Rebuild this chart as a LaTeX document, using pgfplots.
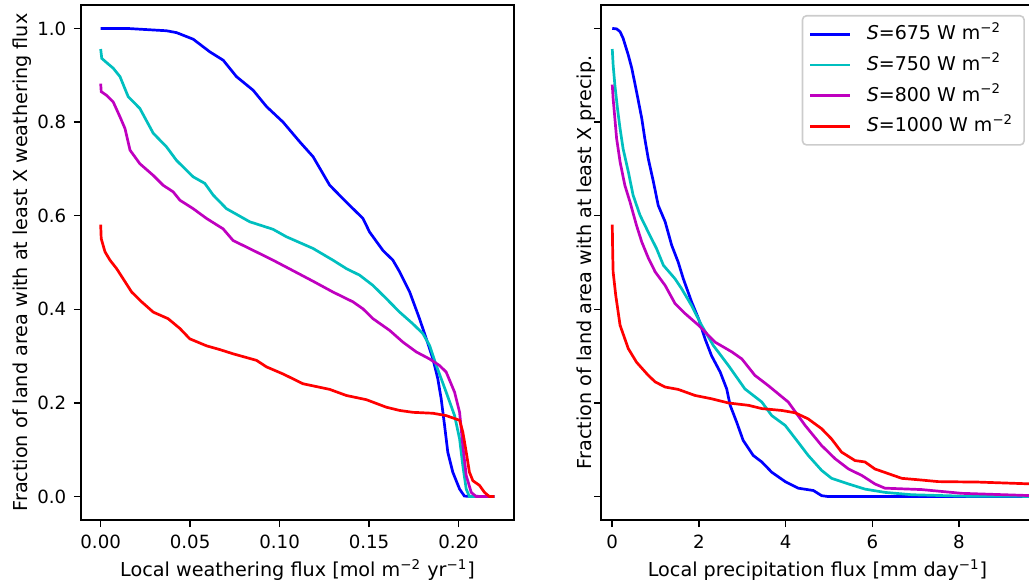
\documentclass[border=0pt]{standalone}
\usepackage{fontspec}
\setmainfont{DejaVu Sans}
\usepackage{pgfplots}
\usepackage{pgfplotstable}
\pgfplotsset{compat=1.18}
\definecolor{mb}{rgb}{0,0,1}
\definecolor{mc}{rgb}{0,0.75,0.75}
\definecolor{mm}{rgb}{0.75,0,0.75}
\definecolor{mr}{rgb}{1,0,0}
\definecolor{legedge}{rgb}{0.8,0.8,0.8}

\pgfplotstableread{
x y
0 1.0
0.0145 1.0
0.0368 0.995
0.0424 0.991
0.0517 0.977
0.061 0.950
0.0685 0.932
0.0759 0.897
0.0852 0.868
0.0927 0.833
0.1019 0.800
0.1112 0.758
0.1187 0.726
0.128 0.665
0.1373 0.629
0.1466 0.594
0.1503 0.565
0.1577 0.526
0.1633 0.505
0.1671 0.480
0.1727 0.437
0.1782 0.380
0.182 0.337
0.1857 0.294
0.1884 0.252
0.1903 0.209
0.1922 0.152
0.194 0.095
0.1968 0.052
0.2006 0.016
0.2033 0.001
0.22 0.0
}\LBlue
\pgfplotstableread{
x y
0 0.956
0.0006 0.936
0.0033 0.927
0.007 0.915
0.0108 0.897
0.0154 0.854
0.0219 0.829
0.0294 0.776
0.0368 0.747
0.0424 0.718
0.0517 0.683
0.0582 0.669
0.0629 0.644
0.0703 0.615
0.0833 0.587
0.0963 0.571
0.1038 0.555
0.1187 0.530
0.1298 0.505
0.1373 0.487
0.1447 0.473
0.1522 0.451
0.1596 0.423
0.1671 0.394
0.1745 0.369
0.1801 0.348
0.1838 0.323
0.1876 0.280
0.1931 0.223
0.1978 0.173
0.2006 0.123
0.2024 0.066
0.2043 0.016
0.2061 0.0
0.22 0.0
}\LCyan
\pgfplotstableread{
x y
0 0.882
0.0003 0.865
0.0033 0.857
0.007 0.843
0.0108 0.811
0.0136 0.786
0.0164 0.740
0.0219 0.711
0.0294 0.686
0.0349 0.665
0.0405 0.651
0.0443 0.633
0.0517 0.615
0.0592 0.594
0.0684 0.572
0.074 0.547
0.0852 0.526
0.0963 0.505
0.1038 0.490
0.1187 0.460
0.1298 0.437
0.141 0.416
0.1466 0.401
0.1522 0.380
0.1615 0.355
0.1689 0.330
0.1764 0.309
0.1838 0.294
0.1894 0.280
0.1931 0.266
0.1978 0.223
0.2006 0.180
0.2024 0.109
0.2043 0.045
0.2071 0.009
0.2099 0.0
0.22 0.0
}\LMag
\pgfplotstableread{
x y
0 0.581
0.0003 0.551
0.0024 0.523
0.0052 0.505
0.0089 0.487
0.0126 0.465
0.0173 0.437
0.0229 0.416
0.0294 0.394
0.0377 0.380
0.0443 0.359
0.0498 0.337
0.0592 0.322
0.0666 0.314
0.074 0.305
0.0871 0.291
0.0927 0.277
0.1019 0.262
0.1131 0.241
0.128 0.229
0.1373 0.216
0.1485 0.207
0.1596 0.191
0.1671 0.184
0.1745 0.180
0.1857 0.178
0.1931 0.173
0.2006 0.163
0.2024 0.138
0.2043 0.095
0.2061 0.052
0.208 0.034
0.2117 0.024
0.2145 0.009
0.2173 0.0
0.22 0.0
}\LRed
\pgfplotstableread{
x y
0 1.0
0.10 0.999
0.18 0.993
0.25 0.979
0.37 0.943
0.45 0.915
0.56 0.865
0.68 0.808
0.75 0.765
0.83 0.722
0.95 0.672
1.06 0.622
1.22 0.587
1.37 0.537
1.52 0.501
1.64 0.465
1.83 0.416
1.99 0.380
2.14 0.337
2.29 0.301
2.49 0.266
2.64 0.230
2.72 0.195
2.87 0.159
3.02 0.120
3.25 0.088
3.45 0.074
3.68 0.052
3.99 0.032
4.29 0.018
4.64 0.013
4.83 0.002
4.99 0.0
10.5 0.0
}\RBlue
\pgfplotstableread{
x y
0 0.956
0.02 0.922
0.06 0.879
0.12 0.829
0.18 0.786
0.25 0.743
0.37 0.694
0.48 0.644
0.64 0.601
0.83 0.565
1.02 0.530
1.18 0.494
1.45 0.465
1.60 0.444
1.83 0.408
2.06 0.366
2.33 0.323
2.68 0.280
3.06 0.230
3.45 0.202
3.68 0.173
3.99 0.152
4.29 0.116
4.52 0.088
4.83 0.056
5.06 0.039
5.45 0.027
5.83 0.016
6.29 0.009
6.91 0.004
8.06 0.001
10.5 0.0
}\RCyan
\pgfplotstableread{
x y
0 0.880
0.02 0.850
0.06 0.808
0.10 0.765
0.18 0.715
0.29 0.665
0.41 0.629
0.56 0.579
0.68 0.544
0.83 0.510
0.99 0.480
1.22 0.451
1.45 0.412
1.68 0.391
1.99 0.366
2.37 0.330
2.76 0.309
2.99 0.294
3.29 0.259
3.60 0.237
4.06 0.202
4.45 0.152
4.83 0.109
5.14 0.081
5.45 0.059
5.76 0.045
6.06 0.027
6.29 0.018
7.14 0.015
8.06 0.007
9.7 0.002
10.5 0.001
}\RMag
\pgfplotstableread{
x y
0 0.581
0.01 0.52
0.02 0.480
0.08 0.430
0.18 0.366
0.37 0.316
0.56 0.287
0.83 0.259
0.99 0.245
1.22 0.234
1.52 0.229
1.91 0.216
2.29 0.209
2.68 0.200
3.14 0.195
3.45 0.188
3.91 0.184
4.22 0.179
4.52 0.166
4.83 0.145
5.06 0.123
5.29 0.095
5.60 0.077
5.83 0.074
6.06 0.059
6.37 0.049
6.68 0.039
7.06 0.036
7.52 0.032
8.45 0.031
9.7 0.027
10.5 0.026
}\RRed

\pgfplotsset{
  mystyle/.style={
    scale only axis,
    width=216.5pt, height=257.5pt,
    anchor=south west,
    ymin=-0.05, ymax=1.05,
    ytick={0,0.2,0.4,0.6,0.8,1.0},
    tick align=outside,
    tick pos=left,
    major tick length=3.5pt,
    every tick/.style={black, line width=0.8pt},
    axis line style={line width=0.8pt},
    /pgf/number format/assume math mode=true,
    tick label style={font=\fontsize{9.1}{11}\selectfont},
    label style={font=\fontsize{9.6}{11}\selectfont},
    xticklabel style={anchor=base, inner sep=0pt, yshift=-10.65pt},
    yticklabel style={anchor=east, inner sep=0pt, xshift=-3.65pt},
    xlabel style={at={(axis description cs:0.5,-0.1101)}, anchor=base},
    every axis plot/.append style={line width=1.35pt},
  }
}

\begin{document}
\begin{tikzpicture}
\begin{axis}[mystyle,
  at={(40.5pt,33pt)},
  xmin=-0.011, xmax=0.231,
  xtick={0,0.05,0.1,0.15,0.2},
  xticklabel style={/pgf/number format/.cd, fixed, fixed zerofill, precision=2},
  yticklabel style={/pgf/number format/.cd, fixed, fixed zerofill, precision=1},
  xlabel={Local weathering flux [mol m\textsuperscript{−2} yr\textsuperscript{−1}]},
  ylabel={Fraction of land area with at least X weathering flux},
  ylabel style={at={(axis description cs:-0.1247,0.5)}, anchor=base},
]
\addplot[mb] table {\LBlue};
\addplot[mc] table {\LCyan};
\addplot[mm] table {\LMag};
\addplot[mr] table {\LRed};
\end{axis}
\begin{axis}[mystyle,
  at={(300.5pt,33pt)},
  xmin=-0.26, xmax=9.73,
  xtick={0,2,4,6,8},
  yticklabels={},
  xlabel={Local precipitation flux [mm day\textsuperscript{−1}]},
  ylabel={Fraction of land area with at least X precip.},
  ylabel style={at={(axis description cs:-0.0219,0.5)}, anchor=base},
  legend cell align=left,
  legend image code/.code={\draw[#1] (0pt,0pt) -- (20pt,0pt);},
  legend style={at={(axis description cs:0.979,0.9806)}, anchor=north east,
    draw=legedge, line width=0.8pt, rounded corners=2pt,
    fill=white, fill opacity=0.8, text opacity=1,
    font=\fontsize{9.5}{11}\selectfont,
    inner xsep=3.3pt, inner ysep=3pt, row sep=2.85pt,
    nodes={inner xsep=0pt, inner ysep=1pt, text height=8pt, text depth=2.5pt},
    /tikz/every odd column/.append style={column sep=7.5pt}},
]
\addplot[mb] table {\RBlue};
\addlegendentry{\textit{S}=675 W m\textsuperscript{−2}\hspace*{2.2pt}}
\addplot[mc] table {\RCyan};
\addlegendentry{\textit{S}=750 W m\textsuperscript{−2}\hspace*{2.2pt}}
\addplot[mm] table {\RMag};
\addlegendentry{\textit{S}=800 W m\textsuperscript{−2}\hspace*{2.2pt}}
\addplot[mr] table {\RRed};
\addlegendentry{\textit{S}=1000 W m\textsuperscript{−2}\hspace*{2.2pt}}
\end{axis}
\pgfresetboundingbox
\path[use as bounding box] (0,0) rectangle (514.5pt,293pt);
\end{tikzpicture}
\end{document}
